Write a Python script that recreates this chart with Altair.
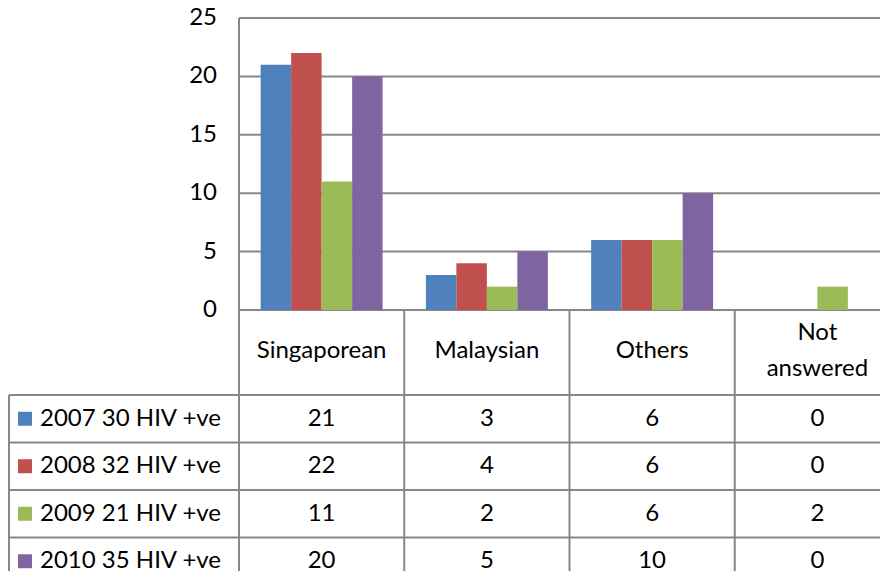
import altair as alt
import pandas as pd

# ---- data ----
categories = ["Singaporean", "Malaysian", "Others", "Not answered"]
header_labels = ["Singaporean", "Malaysian", "Others", "Not\nanswered"]
series = ["2007 30 HIV +ve", "2008 32 HIV +ve", "2009 21 HIV +ve", "2010 35 HIV +ve"]
v2007 = [21, 3, 6, 0]
v2008 = [22, 4, 6, 0]
v2009 = [11, 2, 6, 2]
v2010 = [20, 5, 10, 0]
colors = ["#4F81BD", "#C0504D", "#9BBB59", "#8064A2"]
y_ticks = [0, 5, 10, 15, 20, 25]

FONT = "Lato"
FS = 24
LINE = "#878787"
W, H = 872, 563

all_vals = [v2007, v2008, v2009, v2010]
rows = []
for i, (s, vals) in enumerate(zip(series, all_vals)):
    for c, v in zip(categories, vals):
        rows.append({"cat": c, "series": s, "value": v, "rc": i + 0.5})
bars = pd.DataFrame(rows)
legend_df = pd.DataFrame({"series": series, "rc": [i + 0.5 for i in range(len(series))]})
ticks_df = pd.DataFrame({"t": y_ticks})
header_df = pd.DataFrame({"cat": categories, "label": header_labels})
header_df["multi"] = header_df["label"].str.contains("\n")
rowline_df = pd.DataFrame({"r": [0, 1, 2, 3]})
one = pd.DataFrame({"a": [0], "b": [4]})
cats_df = pd.DataFrame({"cat": categories[1:]})

xs = alt.Scale(domain=categories, range=[231, 892], paddingInner=0, paddingOuter=0)
ys = alt.Scale(domain=[0, 25], range=[302, 10], nice=False)
ts = alt.Scale(domain=[0, 4], range=[387, 577], nice=False)
cs = alt.Scale(domain=series, range=colors)

grid = alt.Chart(ticks_df).mark_rule(color=LINE, strokeWidth=2).encode(
    y=alt.Y("t:Q", scale=ys, axis=None), x=alt.value(231), x2=alt.value(W)
)
tick_labels = alt.Chart(ticks_df).mark_text(
    align="right", baseline="middle", font=FONT, fontSize=FS, color="black"
).encode(y=alt.Y("t:Q", scale=ys, axis=None), x=alt.value(209), text="t:Q")

bar = alt.Chart(bars).mark_bar().encode(
    x=alt.X("cat:N", scale=xs, axis=None, sort=categories),
    xOffset=alt.XOffset("series:N", scale=alt.Scale(domain=series, paddingInner=0, paddingOuter=0.71)),
    y=alt.Y("value:Q", scale=ys, axis=None),
    color=alt.Color("series:N", scale=cs, legend=None),
)

axis_line = alt.Chart(one).mark_rule(color=LINE, strokeWidth=2).encode(
    x=alt.value(231), y=alt.value(10), y2=alt.value(H)
)
col_lines = alt.Chart(cats_df).mark_rule(color=LINE, strokeWidth=2).encode(
    x=alt.X("cat:N", scale=xs, axis=None, bandPosition=0, sort=categories),
    y=alt.value(302), y2=alt.value(H),
)
row_lines = alt.Chart(rowline_df).mark_rule(color=LINE, strokeWidth=2).encode(
    y=alt.Y("r:Q", scale=ts, axis=None), x=alt.value(1), x2=alt.value(W)
)
left_border = alt.Chart(one).mark_rule(color=LINE, strokeWidth=2).encode(
    x=alt.value(1), y=alt.Y("a:Q", scale=ts, axis=None), y2="b:Q"
)

header_single = alt.Chart(header_df).transform_filter("!datum.multi").mark_text(
    font=FONT, fontSize=FS, baseline="middle", color="black"
).encode(
    x=alt.X("cat:N", scale=xs, axis=None, sort=categories), y=alt.value(343), text="label:N"
)
header_multi = alt.Chart(header_df).transform_filter("datum.multi").mark_text(
    font=FONT, fontSize=FS, baseline="middle", lineBreak="\n", lineHeight=36, color="black"
).encode(
    x=alt.X("cat:N", scale=xs, axis=None, sort=categories), y=alt.value(325), text="label:N"
)
cell_text = alt.Chart(bars).mark_text(
    font=FONT, fontSize=FS, baseline="middle", color="black"
).encode(
    x=alt.X("cat:N", scale=xs, axis=None, sort=categories),
    y=alt.Y("rc:Q", scale=ts, axis=None),
    text="value:Q",
)
legend_sq = alt.Chart(legend_df).mark_square(size=196, opacity=1, filled=True).encode(
    x=alt.value(17), y=alt.Y("rc:Q", scale=ts, axis=None),
    color=alt.Color("series:N", scale=cs, legend=None),
)
legend_txt = alt.Chart(legend_df).mark_text(
    font=FONT, fontSize=FS, align="left", baseline="middle", color="black"
).encode(x=alt.value(32), y=alt.Y("rc:Q", scale=ts, axis=None), text="series:N")

chart = alt.layer(
    grid, bar, tick_labels, axis_line, col_lines, row_lines, left_border,
    header_single, header_multi, cell_text, legend_sq, legend_txt
).resolve_scale(y="independent").properties(
    width=W, height=H, padding=0,
    autosize=alt.AutoSizeParams(type="none"),
    background="white",
).configure_view(stroke=None)

chart.save("out.html", embed_options={"renderer": "svg", "actions": False})
